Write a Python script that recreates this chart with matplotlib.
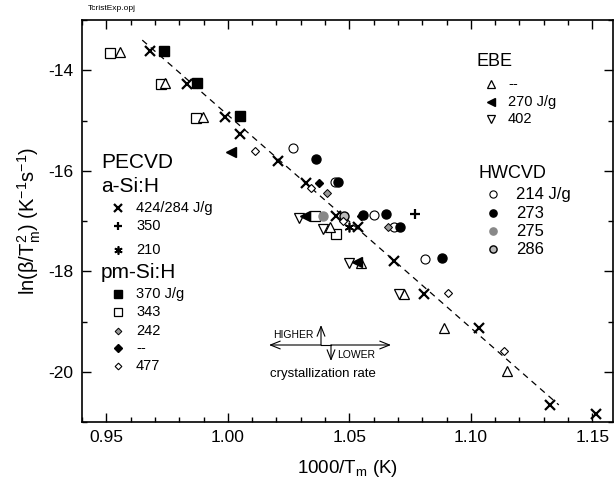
import matplotlib
matplotlib.use("Agg")
import matplotlib.pyplot as plt
from matplotlib.lines import Line2D
from matplotlib.patches import FancyArrowPatch

plt.rcParams['font.family'] = ['Liberation Sans', 'DejaVu Sans']
plt.rcParams['mathtext.fontset'] = 'custom'
plt.rcParams['mathtext.rm'] = 'Liberation Sans'
plt.rcParams['mathtext.it'] = 'Liberation Sans'
plt.rcParams['mathtext.default'] = 'regular'

# ---------------- data ----------------
# PECVD a-Si:H
asi424_x = [0.968, 0.9832, 0.999, 1.005, 1.0205, 1.0322, 1.0445, 1.0534, 1.0685, 1.0808, 1.1034, 1.1324, 1.1517]
asi424_y = [-13.61, -14.27, -14.94, -15.27, -15.80, -16.25, -16.90, -17.11, -17.79, -18.45, -19.12, -20.66, -20.84]
asi350_x = [1.077]
asi350_y = [-16.87]
asi210_x = [1.0500]
asi210_y = [-17.11]
# PECVD pm-Si:H
pm370_x = [0.9737, 0.9874, 1.0052]
pm370_y = [-13.61, -14.26, -14.92]
pm343_x = [0.9514, 0.9726, 0.9870, 1.0359, 1.0445]
pm343_y = [-13.65, -14.28, -14.96, -16.91, -17.26]
pm242_x = [1.0407, 1.0660]
pm242_y = [-16.45, -17.11]
pmdash_x = [1.0374, 1.0548]
pmdash_y = [-16.24, -16.90]
pm477_x = [1.0110, 1.0342, 1.0472, 1.0906, 1.1136]
pm477_y = [-15.60, -16.35, -17.00, -18.43, -19.59]
# EBE
ebedash_x = [0.9555, 0.9742, 0.9897, 1.0422, 1.0550, 1.0726, 1.0890, 1.1147]
ebedash_y = [-13.63, -14.26, -14.94, -17.11, -17.83, -18.45, -19.12, -19.98]
ebe270_x = [1.0014, 1.0319, 1.0531]
ebe270_y = [-15.62, -16.91, -17.81]
ebe402_x = [1.0294, 1.0390, 1.0500, 1.0705]
ebe402_y = [-16.94, -17.15, -17.83, -18.46]
# HWCVD
hw214_x = [1.0267, 1.0440, 1.0602, 1.0682, 1.0810]
hw214_y = [-15.55, -16.22, -16.88, -17.11, -17.76]
hw273_x = [1.0363, 1.0455, 1.0556, 1.0650, 1.0709, 1.0883]
hw273_y = [-15.77, -16.22, -16.88, -16.86, -17.11, -17.74]
hw275_x = [1.0390]
hw275_y = [-16.91]
hw286_x = [1.0477]
hw286_y = [-16.90]
# linear fit
fit_x = [0.9648, 1.1362]
fit_y = [-13.40, -20.66]

xticks = [0.95, 1.00, 1.05, 1.10, 1.15]
yticks = [-14, -16, -18, -20]

# ---------------- styles ----------------
styles = {
    'asi424': dict(marker='x', color='black', ms=7, mew=1.6, ls='none'),
    'asi350': dict(marker='+', color='black', ms=7, mew=1.6, ls='none'),
    'asi210': dict(marker=(6, 2, 0), color='black', ms=7, mew=1.2, ls='none'),
    'pm370': dict(marker='s', mfc='black', mec='black', ms=6.5, ls='none'),
    'pm343': dict(marker='s', mfc='white', mec='black', ms=7, mew=0.9, ls='none'),
    'pm242': dict(marker='D', mfc='#999999', mec='black', ms=4, mew=0.7, ls='none'),
    'pmdash': dict(marker='D', mfc='black', mec='black', ms=4.5, ls='none'),
    'pm477': dict(marker='D', mfc='white', mec='black', ms=4, mew=0.8, ls='none'),
    'ebedash': dict(marker='^', mfc='white', mec='black', ms=7.5, mew=0.9, ls='none'),
    'ebe270': dict(marker='<', mfc='black', mec='black', ms=6.5, ls='none'),
    'ebe402': dict(marker='v', mfc='white', mec='black', ms=7.5, mew=0.9, ls='none'),
    'hw214': dict(marker='o', mfc='white', mec='black', ms=6.5, mew=0.8, ls='none'),
    'hw273': dict(marker='o', mfc='black', mec='black', ms=6.5, ls='none'),
    'hw275': dict(marker='o', mfc='#888888', mec='#888888', ms=6.5, ls='none'),
    'hw286': dict(marker='o', mfc='#bbbbbb', mec='black', ms=6.5, mew=1.0, ls='none'),
}

fig = plt.figure(figsize=(6.14, 4.84), dpi=100)
W, H = 614.0, 484.0
ax = fig.add_axes([82 / W, 1 - 422 / H, 531 / W, 402 / H])

ax.plot(fit_x, fit_y, color='black', lw=0.9, ls=(0, (5, 4)))

series = [
    ('asi424', asi424_x, asi424_y), ('asi350', asi350_x, asi350_y), ('asi210', asi210_x, asi210_y),
    ('pm343', pm343_x, pm343_y), ('pm370', pm370_x, pm370_y),
    ('ebedash', ebedash_x, ebedash_y), ('ebe402', ebe402_x, ebe402_y), ('ebe270', ebe270_x, ebe270_y),
    ('hw214', hw214_x, hw214_y), ('hw286', hw286_x, hw286_y), ('hw275', hw275_x, hw275_y), ('hw273', hw273_x, hw273_y),
    ('pm242', pm242_x, pm242_y), ('pmdash', pmdash_x, pmdash_y), ('pm477', pm477_x, pm477_y),
]
for key, xs, ys in series:
    ax.plot(xs, ys, clip_on=False, **styles[key])

ax.set_xlim(0.9406, 1.1585)
ax.set_ylim(-21, -13)
ax.set_xticks(xticks)
ax.set_xticklabels([f"{v:.2f}" for v in xticks])
ax.set_yticks(yticks)
ax.set_yticklabels([str(v) for v in yticks])
ax.set_xticks([0.94 + 0.01 * i for i in range(22)], minor=True)
ax.set_yticks([-21, -19, -17, -15, -13], minor=True)
ax.tick_params(which='both', direction='in', top=True, right=True, labelsize=12.5, width=1.0)
ax.tick_params(which='major', length=6.5, pad=6)
ax.tick_params(which='minor', length=3.5)
for s in ax.spines.values():
    s.set_linewidth(1.2)

ax.set_xlabel('1000/T$_\\mathrm{m}$ (K)', fontsize=13.5, labelpad=9)
ax.set_ylabel('ln(\u03b2/T$_\\mathrm{m}^\\mathrm{2}$) (K$^\\mathrm{-1}$s$^\\mathrm{-1}$)', fontsize=14.5, labelpad=4)


def fp(px, py):
    return (px / W, 1 - py / H)


def ftext(px, py, s, size, ha='left', va='center', **kw):
    x, y = fp(px, py)
    fig.text(x, y, s, fontsize=size, ha=ha, va=va, **kw)


def fmark(px, py, key, scale=0.85):
    st = dict(styles[key])
    st['ms'] = st['ms'] * scale
    x, y = fp(px, py)
    fig.add_artist(Line2D([x], [y], transform=fig.transFigure, **st))


# file name
ftext(88, 9, 'TcristExp.opj', 6)

# PECVD legend
ftext(101, 163, 'PECVD', 15)
ftext(101, 187, 'a-Si:H', 15)
pec = [(208, 'asi424', '424/284 J/g'), (226, 'asi350', '350'), (250, 'asi210', '210')]
for py, k, lab in pec:
    fmark(118, py, k)
    ftext(136, py, lab, 10.5)
ftext(101, 273, 'pm-Si:H', 15)
pm = [(294, 'pm370', '370 J/g'), (312, 'pm343', '343'), (331, 'pm242', '242'),
      (348, 'pmdash', '--'), (366, 'pm477', '477')]
for py, k, lab in pm:
    fmark(118, py, k)
    ftext(136, py, lab, 10.5)

# EBE legend
ftext(476, 61, 'EBE', 13)
ebe = [(84, 'ebedash', '--'), (102, 'ebe270', '270 J/g'), (119, 'ebe402', '402')]
for py, k, lab in ebe:
    fmark(491, py, k, 0.8)
    ftext(508, py, lab, 10.5)

# HWCVD legend
ftext(479, 174, 'HWCVD', 13)
hw = [(194, 'hw214', '214 J/g'), (213, 'hw273', '273'), (231, 'hw275', '275'), (249, 'hw286', '286')]
for py, k, lab in hw:
    fmark(493, py, k, 0.8)
    ftext(516, py, lab, 12)

# crystallization rate arrows
def farrow(p0, p1):
    a = FancyArrowPatch(fp(*p0), fp(*p1), transform=fig.transFigure,
                        arrowstyle='->,head_length=7,head_width=2.8', lw=0.8, color='black',
                        shrinkA=0, shrinkB=0, mutation_scale=1)
    fig.add_artist(a)

fig.add_artist(Line2D([fp(321, 345)[0], fp(331, 345)[0]], [fp(321, 345)[1]] * 2,
                      transform=fig.transFigure, color='black', lw=0.8))
farrow((321, 345), (269, 345))
farrow((321, 345), (321, 325))
farrow((331, 345), (391, 345))
farrow((331, 345), (331, 361))
ftext(273, 335, 'HIGHER', 7.5)
ftext(337, 355, 'LOWER', 7.5)
ftext(323, 374, 'crystallization rate', 9.5, ha='center')

fig.savefig('out.png', dpi=100)
